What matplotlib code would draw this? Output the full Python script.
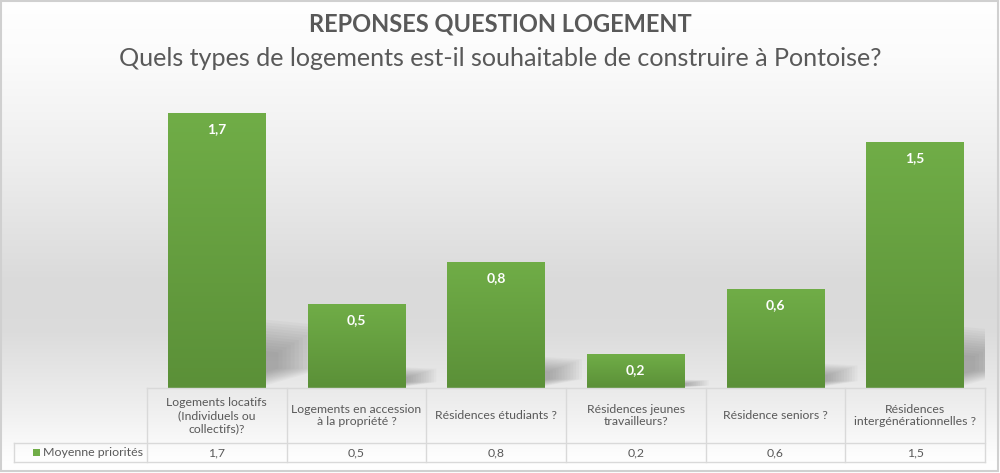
import matplotlib.pyplot as plt
import numpy as np
from matplotlib.patches import Rectangle, Polygon
from matplotlib.colors import LinearSegmentedColormap

# Data
categories = ['Logements locatifs\n(Individuels ou\ncollectifs)?',
              'Logements en accession\nà la propriété ?',
              'Résidences étudiants ?',
              'Résidences jeunes\ntravailleurs?',
              'Résidence seniors ?',
              'Résidences\nintergénérationnelles ?']
values = [1.70, 0.52, 0.78, 0.21, 0.61, 1.52]
labels = [f'{v:.1f}'.replace('.', ',') for v in values]
series_name = 'Moyenne priorités'

title = 'REPONSES QUESTION LOGEMENT'
subtitle = 'Quels types de logements est-il souhaitable de construire à Pontoise?'

plt.rcParams['font.family'] = ['Lato', 'DejaVu Sans']

W, H = 1000, 473
fig = plt.figure(figsize=(W / 100, H / 100), dpi=100)

# background gradient (white -> grey -> white)
bg = fig.add_axes([0, 0, 1, 1], zorder=-10)
stops = [(0.0, 1.0), (0.12, 0.985), (0.35, 0.93), (0.6, 0.855), (0.7, 0.86), (0.85, 0.93), (0.97, 0.995), (1.0, 1.0)]
yy = np.linspace(0, 1, 400)
g = np.interp(yy, [s[0] for s in stops], [s[1] for s in stops])
bg.imshow(np.stack([g, g, g], axis=-1)[:, None, :], aspect='auto', extent=[0, 1, 1, 0])
bg.set_xlim(0, 1)
bg.set_ylim(1, 0)
bg.axis('off')
bg.add_patch(Rectangle((0.001, 0.002), 0.997, 0.994, fill=False, ec='#d0d0d0', lw=1.5))

# bar axes in pixel layout
x0, x1 = 147, 985
base, top = 388, 95
ax = fig.add_axes([x0 / W, (H - base) / H, (x1 - x0) / W, (base - top) / H])
ax.set_xlim(-0.5, len(values) - 0.5)
ax.set_ylim(0, 1.81)
ax.axis('off')

green = LinearSegmentedColormap.from_list('g', ['#5b9038', '#70ad47'])
bw = 0.7
for i, v in enumerate(values):
    # soft perspective shadow: stacked shrinking polygons
    xr = i + bw / 2
    t = 0.24 * v
    d = 0.12 + 0.15 * v
    pts = np.array([(xr - 0.1, 0), (xr - 0.1, t), (xr + d, t * 0.9), (xr + d, 0.07 * v)])
    c = np.array([xr - 0.1, 0.3 * t])
    for s in np.linspace(1.08, 0.4, 12):
        ax.add_patch(Polygon(c + (pts - c) * s, closed=True, fc='#444444', ec='none',
                             alpha=0.035, zorder=1))
    r = Rectangle((i - bw / 2, 0), bw, v, fc='none', ec='none', zorder=2)
    ax.add_patch(r)
    im = ax.imshow(np.linspace(0, 1, 100)[:, None], cmap=green, aspect='auto',
                   extent=[i - bw / 2, i + bw / 2, 0, v], origin='lower', zorder=2)
    im.set_clip_path(r)
    ax.text(i, v - 0.1, labels[i], ha='center', va='center', color='white',
            fontsize=10, fontweight='bold', zorder=3)
ax.set_xlim(-0.5, len(values) - 0.5)
ax.set_ylim(0, 1.81)

# data table
tab = fig.add_axes([0, 0, 1, 1], zorder=5)
tab.set_xlim(0, W)
tab.set_ylim(H, 0)
tab.axis('off')
lc = '#d9d9d9'
r0, r1, r2 = 388, 443, 462
colw = (x1 - x0) / len(values)
tab.plot([x0, x1], [r0, r0], color=lc, lw=1)
tab.plot([14, x1], [r1, r1], color=lc, lw=1)
tab.plot([14, x1], [r2, r2], color=lc, lw=1)
tab.plot([14, 14], [r1, r2], color=lc, lw=1)
for j in range(len(values) + 1):
    xx = x0 + j * colw
    tab.plot([xx, xx], [r0, r2], color=lc, lw=1)
for j, (c, lab) in enumerate(zip(categories, labels)):
    cx = x0 + (j + 0.5) * colw
    tab.text(cx, (r0 + r1) / 2, c, ha='center', va='center', fontsize=8.8,
             color='#595959', linespacing=1.2)
    tab.text(cx, (r1 + r2) / 2, lab, ha='center', va='center', fontsize=8.8, color='#595959')
tab.add_patch(Rectangle((33, 449), 7, 7, fc='#70ad47', ec='none'))
tab.text(43, (r1 + r2) / 2, series_name, ha='left', va='center', fontsize=8.9, color='#595959')

fig.text(0.5, 1 - 24 / H, title, ha='center', va='center', fontsize=17,
         fontweight='bold', color='#595959')
fig.text(0.5, 1 - 58 / H, subtitle, ha='center', va='center', fontsize=18.1,
         color='#595959')

fig.savefig('out.png', dpi=100)
